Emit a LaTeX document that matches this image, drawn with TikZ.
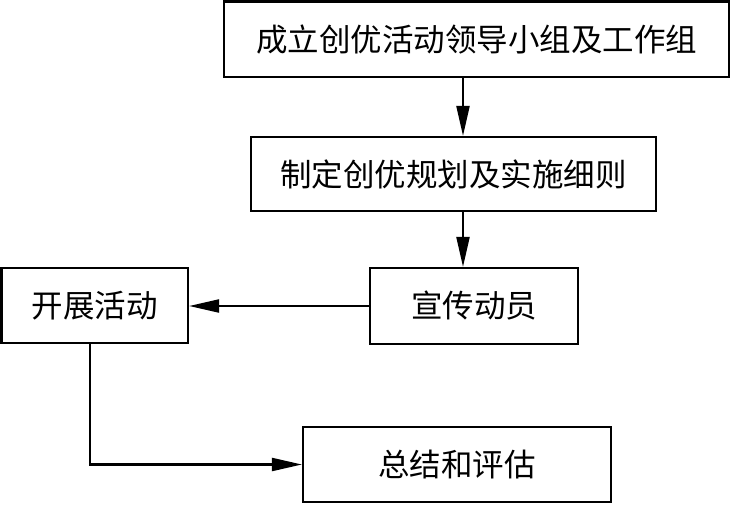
\documentclass[tikz,border=0pt]{standalone}
\usepackage{fontspec}
\newfontfamily\cjk{Noto Sans CJK SC}
\usetikzlibrary{arrows.meta}
\begin{document}
\begin{tikzpicture}[x=1pt,y=-1pt,
  box/.style={draw=black, line width=2.2pt, rectangle, inner sep=0pt, font=\cjk\fontsize{31.5}{34}\selectfont},
  conn/.style={draw=black, line width=2.2pt, -{Triangle[length=30pt,width=13pt]}}]
\useasboundingbox (0,0) rectangle (734,504);
\node[box, minimum width=505pt, minimum height=75.5pt] (b1) at (476.5,39.25) {成立创优活动领导小组及工作组};
\node[box, minimum width=405pt, minimum height=74pt] (b2) at (453.5,174) {制定创优规划及实施细则};
\node[box, minimum width=208pt, minimum height=76pt] (b3) at (474,306) {宣传动员};
\node[box, minimum width=186.5pt, minimum height=75pt] (b4) at (94.75,305.5) {开展活动};
\node[box, minimum width=308pt, minimum height=75pt] (b5) at (457,464.5) {总结和评估};
\coordinate (ax) at (463,0);
\coordinate (cx) at (90,0);
\draw[conn] (b1.south -| ax) -- (b2.north -| ax);
\draw[conn] (b2.south -| ax) -- (b3.north -| ax);
\draw[conn] (b3.west) -- (b4.east |- b3.west);
\draw[conn] (b4.south -| cx) |- (b5.west);
\end{tikzpicture}
\end{document}
